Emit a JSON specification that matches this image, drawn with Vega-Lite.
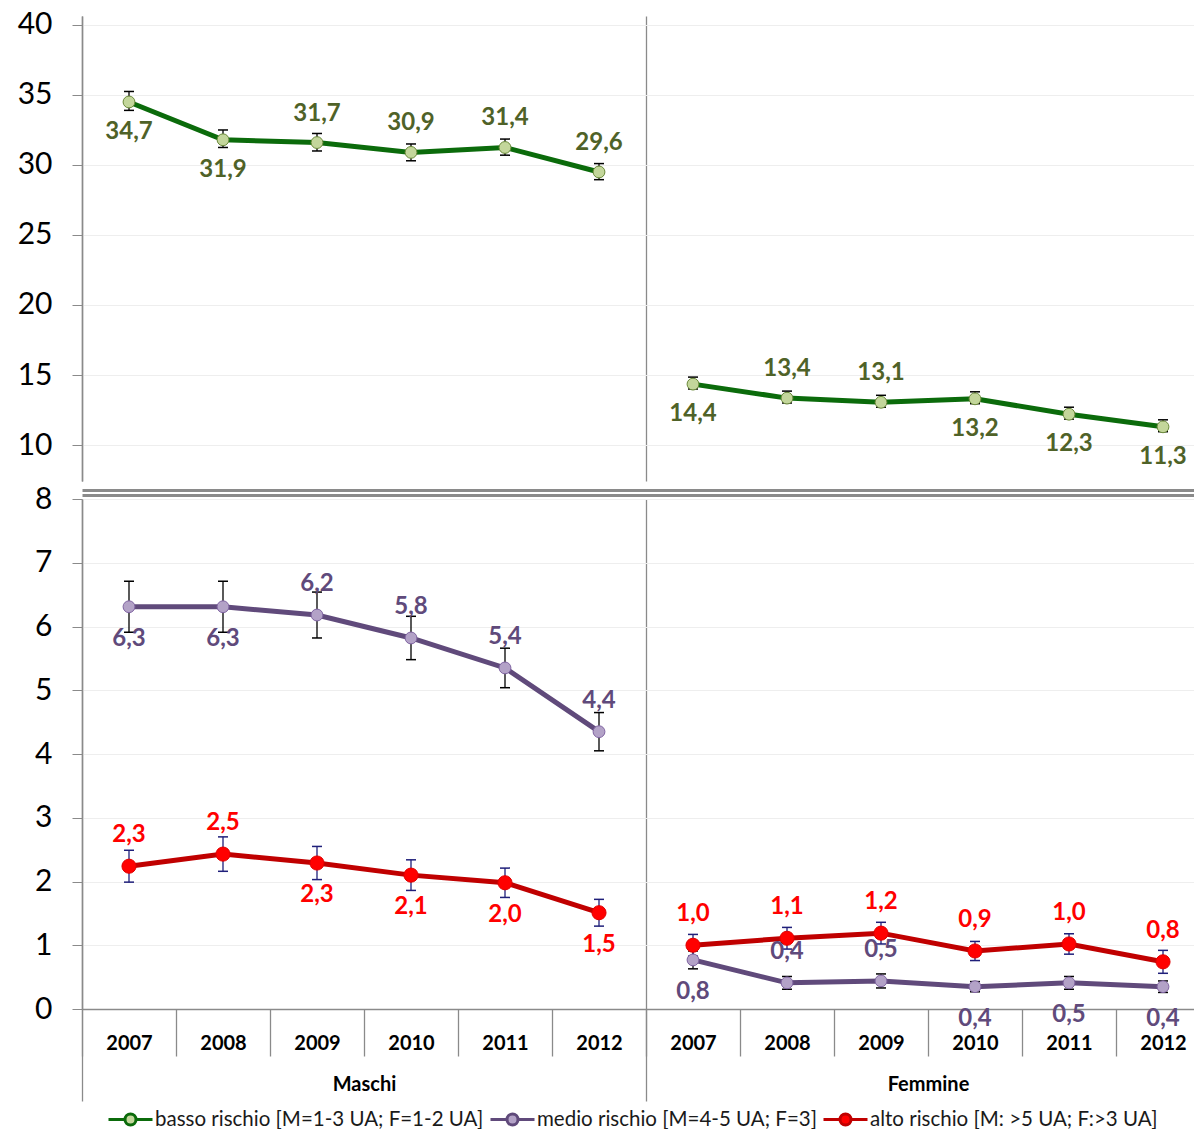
{
"$schema": "https://vega.github.io/schema/vega-lite/v6.json",
"background": "white",
"padding": {"left": 17, "top": 9, "right": 0, "bottom": 0},
"config": {
  "font": "Lato",
  "view": {"stroke": null},
  "axis": {"labelFont": "Lato", "titleFont": "Lato"},
  "legend": {"layout": {"bottom": {"anchor": "middle"}}}
},
"datasets": {
 "d": [
  {"g":"Maschi","k":"M2007","r":"b","s":"basso rischio [M=1-3 UA; F=1-2 UA]","v":34.5,"lo":33.9,"hi":35.25,"t":"34,7","p":"b"},
  {"g":"Maschi","k":"M2008","r":"b","s":"basso rischio [M=1-3 UA; F=1-2 UA]","v":31.8,"lo":31.25,"hi":32.5,"t":"31,9","p":"b"},
  {"g":"Maschi","k":"M2009","r":"b","s":"basso rischio [M=1-3 UA; F=1-2 UA]","v":31.6,"lo":31.0,"hi":32.25,"t":"31,7","p":"a"},
  {"g":"Maschi","k":"M2010","r":"b","s":"basso rischio [M=1-3 UA; F=1-2 UA]","v":30.9,"lo":30.3,"hi":31.5,"t":"30,9","p":"a"},
  {"g":"Maschi","k":"M2011","r":"b","s":"basso rischio [M=1-3 UA; F=1-2 UA]","v":31.25,"lo":30.7,"hi":31.85,"t":"31,4","p":"a"},
  {"g":"Maschi","k":"M2012","r":"b","s":"basso rischio [M=1-3 UA; F=1-2 UA]","v":29.5,"lo":28.95,"hi":30.1,"t":"29,6","p":"a"},
  {"g":"Femmine","k":"F2007","r":"b","s":"basso rischio [M=1-3 UA; F=1-2 UA]","v":14.35,"lo":14.0,"hi":14.85,"t":"14,4","p":"b"},
  {"g":"Femmine","k":"F2008","r":"b","s":"basso rischio [M=1-3 UA; F=1-2 UA]","v":13.35,"lo":13.0,"hi":13.85,"t":"13,4","p":"a"},
  {"g":"Femmine","k":"F2009","r":"b","s":"basso rischio [M=1-3 UA; F=1-2 UA]","v":13.05,"lo":12.7,"hi":13.55,"t":"13,1","p":"a"},
  {"g":"Femmine","k":"F2010","r":"b","s":"basso rischio [M=1-3 UA; F=1-2 UA]","v":13.3,"lo":12.95,"hi":13.8,"t":"13,2","p":"b"},
  {"g":"Femmine","k":"F2011","r":"b","s":"basso rischio [M=1-3 UA; F=1-2 UA]","v":12.2,"lo":11.85,"hi":12.7,"t":"12,3","p":"b"},
  {"g":"Femmine","k":"F2012","r":"b","s":"basso rischio [M=1-3 UA; F=1-2 UA]","v":11.3,"lo":10.95,"hi":11.8,"t":"11,3","p":"b"},

  {"g":"Maschi","k":"M2007","r":"m","s":"medio rischio [M=4-5 UA; F=3]","v":6.31,"lo":5.91,"hi":6.71,"t":"6,3","p":"b"},
  {"g":"Maschi","k":"M2008","r":"m","s":"medio rischio [M=4-5 UA; F=3]","v":6.31,"lo":5.91,"hi":6.71,"t":"6,3","p":"b"},
  {"g":"Maschi","k":"M2009","r":"m","s":"medio rischio [M=4-5 UA; F=3]","v":6.18,"lo":5.82,"hi":6.54,"t":"6,2","p":"a"},
  {"g":"Maschi","k":"M2010","r":"m","s":"medio rischio [M=4-5 UA; F=3]","v":5.82,"lo":5.48,"hi":6.16,"t":"5,8","p":"a"},
  {"g":"Maschi","k":"M2011","r":"m","s":"medio rischio [M=4-5 UA; F=3]","v":5.35,"lo":5.04,"hi":5.66,"t":"5,4","p":"a"},
  {"g":"Maschi","k":"M2012","r":"m","s":"medio rischio [M=4-5 UA; F=3]","v":4.35,"lo":4.05,"hi":4.65,"t":"4,4","p":"a"},
  {"g":"Femmine","k":"F2007","r":"m","s":"medio rischio [M=4-5 UA; F=3]","v":0.77,"lo":0.63,"hi":0.91,"t":"0,8","p":"b"},
  {"g":"Femmine","k":"F2008","r":"m","s":"medio rischio [M=4-5 UA; F=3]","v":0.41,"lo":0.31,"hi":0.51,"t":"0,4","p":"a"},
  {"g":"Femmine","k":"F2009","r":"m","s":"medio rischio [M=4-5 UA; F=3]","v":0.44,"lo":0.33,"hi":0.55,"t":"0,5","p":"a"},
  {"g":"Femmine","k":"F2010","r":"m","s":"medio rischio [M=4-5 UA; F=3]","v":0.35,"lo":0.27,"hi":0.43,"t":"0,4","p":"b"},
  {"g":"Femmine","k":"F2011","r":"m","s":"medio rischio [M=4-5 UA; F=3]","v":0.41,"lo":0.31,"hi":0.51,"t":"0,5","p":"b"},
  {"g":"Femmine","k":"F2012","r":"m","s":"medio rischio [M=4-5 UA; F=3]","v":0.35,"lo":0.26,"hi":0.44,"t":"0,4","p":"b"},

  {"g":"Maschi","k":"M2007","r":"a","s":"alto rischio [M: >5 UA; F:>3 UA]","v":2.24,"lo":1.99,"hi":2.49,"t":"2,3","p":"a"},
  {"g":"Maschi","k":"M2008","r":"a","s":"alto rischio [M: >5 UA; F:>3 UA]","v":2.43,"lo":2.16,"hi":2.7,"t":"2,5","p":"a"},
  {"g":"Maschi","k":"M2009","r":"a","s":"alto rischio [M: >5 UA; F:>3 UA]","v":2.29,"lo":2.03,"hi":2.55,"t":"2,3","p":"b"},
  {"g":"Maschi","k":"M2010","r":"a","s":"alto rischio [M: >5 UA; F:>3 UA]","v":2.1,"lo":1.86,"hi":2.34,"t":"2,1","p":"b"},
  {"g":"Maschi","k":"M2011","r":"a","s":"alto rischio [M: >5 UA; F:>3 UA]","v":1.98,"lo":1.75,"hi":2.21,"t":"2,0","p":"b"},
  {"g":"Maschi","k":"M2012","r":"a","s":"alto rischio [M: >5 UA; F:>3 UA]","v":1.51,"lo":1.3,"hi":1.72,"t":"1,5","p":"b"},
  {"g":"Femmine","k":"F2007","r":"a","s":"alto rischio [M: >5 UA; F:>3 UA]","v":1.0,"lo":0.83,"hi":1.17,"t":"1,0","p":"a"},
  {"g":"Femmine","k":"F2008","r":"a","s":"alto rischio [M: >5 UA; F:>3 UA]","v":1.11,"lo":0.94,"hi":1.28,"t":"1,1","p":"a"},
  {"g":"Femmine","k":"F2009","r":"a","s":"alto rischio [M: >5 UA; F:>3 UA]","v":1.19,"lo":1.02,"hi":1.36,"t":"1,2","p":"a"},
  {"g":"Femmine","k":"F2010","r":"a","s":"alto rischio [M: >5 UA; F:>3 UA]","v":0.91,"lo":0.76,"hi":1.06,"t":"0,9","p":"a"},
  {"g":"Femmine","k":"F2011","r":"a","s":"alto rischio [M: >5 UA; F:>3 UA]","v":1.02,"lo":0.86,"hi":1.18,"t":"1,0","p":"a"},
  {"g":"Femmine","k":"F2012","r":"a","s":"alto rischio [M: >5 UA; F:>3 UA]","v":0.74,"lo":0.56,"hi":0.92,"t":"0,8","p":"a"}
 ]
},
"bounds": "flush",
"spacing": 18,
"vconcat": [
 {
  "width": 1112, "height": 465,
  "data": {"name": "d"},
  "transform": [{"filter": "datum.r == 'b'"}],
  "layer": [
   {
    "mark": {"type": "rule", "opacity": 0},
    "encoding": {
     "x": {"field": "g", "type": "nominal",
       "scale": {"domain": ["Maschi", "Femmine"], "range": [0, 1128], "paddingInner": 0, "paddingOuter": 0},
       "axis": {"orient": "bottom", "offset": 9, "title": null, "labels": false, "ticks": false, "grid": true, "gridColor": "#8a8a8a", "gridWidth": 1.3, "tickBand": "extent", "domainColor": "#8a8a8a", "domainWidth": 3}}
    }
   },
   {
    "encoding": {
     "x": {"field": "k", "type": "nominal",
       "scale": {"domain": ["M2007","M2008","M2009","M2010","M2011","M2012","F2007","F2008","F2009","F2010","F2011","F2012"], "range": [0, 1128], "paddingInner": 0, "paddingOuter": 0},
       "axis": {"orient": "bottom", "offset": 14, "title": null, "labels": false, "ticks": false, "grid": false, "domainColor": "#8a8a8a", "domainWidth": 3}}
    },
    "layer": [
     {
      "mark": {"type": "line", "strokeWidth": 5},
      "encoding": {
       "y": {"field": "v", "type": "quantitative", "title": null,
         "scale": {"domain": [7.43, 40.64], "nice": false, "zero": false},
         "axis": {"values": [10,15,20,25,30,35,40], "format": "d", "labelFontSize": 30, "labelColor": "#000000", "labelPadding": 20, "tickSize": 10, "tickColor": "#8a8a8a", "domainColor": "#8a8a8a", "domainWidth": 1.5, "grid": true, "gridColor": "#eeeeee"}},
       "color": {"field": "s", "type": "nominal",
         "scale": {"domain": ["basso rischio [M=1-3 UA; F=1-2 UA]", "medio rischio [M=4-5 UA; F=3]", "alto rischio [M: >5 UA; F:>3 UA]"], "range": ["#0b6b0b", "#604a7b", "#c00000"]},
         "legend": {"title": null, "orient": "bottom", "direction": "horizontal", "offset": 5,
           "symbolType": "M-2,0L-0.5,0M0.5,0L2,0M0.5,0A0.5,0.5,0,1,1,-0.5,0A0.5,0.5,0,1,1,0.5,0Z",
           "symbolSize": 484, "symbolStrokeWidth": 3, "labelFontSize": 20.5, "labelColor": "#1a1a1a", "labelOffset": 12, "columnPadding": 0, "labelLimit": 0,
           "encode": {"symbols": {"update": {"fill": {"signal": "datum.value === 'basso rischio [M=1-3 UA; F=1-2 UA]' ? '#c3d69b' : datum.value === 'medio rischio [M=4-5 UA; F=3]' ? '#b3a2c7' : '#ff0000'"}, "opacity": {"value": 1}}}}}},
       "detail": {"field": "g"}
      }
     },
     {
      "mark": {"type": "rule", "strokeWidth": 1.3, "color": "#000000"},
      "encoding": {"y": {"field": "lo", "type": "quantitative", "title": null}, "y2": {"field": "hi"}}
     },
     {
      "mark": {"type": "tick", "size": 10, "thickness": 1.5, "color": "#000000", "opacity": 1},
      "encoding": {"y": {"field": "lo", "type": "quantitative", "title": null}}
     },
     {
      "mark": {"type": "tick", "size": 10, "thickness": 1.5, "color": "#000000", "opacity": 1},
      "encoding": {"y": {"field": "hi", "type": "quantitative", "title": null}}
     },
     {
      "mark": {"type": "circle", "size": 140, "opacity": 1, "fill": "#c3d69b", "stroke": "#6b8a3a", "strokeWidth": 1},
      "encoding": {"y": {"field": "v", "type": "quantitative", "title": null}}
     },
     {
      "transform": [{"filter": "datum.p == 'a'"}],
      "mark": {"type": "text", "dy": -29, "fontSize": 24, "fontWeight": "bold", "baseline": "middle", "color": "#4f6228"},
      "encoding": {"y": {"field": "v", "type": "quantitative", "title": null}, "text": {"field": "t"}}
     },
     {
      "transform": [{"filter": "datum.p == 'b'"}],
      "mark": {"type": "text", "dy": 30, "fontSize": 24, "fontWeight": "bold", "baseline": "middle", "color": "#4f6228"},
      "encoding": {"y": {"field": "v", "type": "quantitative", "title": null}, "text": {"field": "t"}}
     }
    ]
   }
  ],
  "resolve": {"scale": {"x": "independent"}}
 },
 {
  "width": 1112, "height": 510,
  "data": {"name": "d"},
  "transform": [{"filter": "datum.r != 'b'"}],
  "layer": [
   {
    "mark": {"type": "rule", "opacity": 0},
    "encoding": {
     "x": {"field": "g", "type": "nominal",
       "scale": {"domain": ["Maschi", "Femmine"], "range": [0, 1128], "paddingInner": 0, "paddingOuter": 0},
       "axis": {"orient": "bottom", "offset": 0, "title": null, "labels": true, "labelAngle": 0, "labelFontSize": 20, "labelFontWeight": "bold", "labelColor": "#000000", "labelPadding": -27, "ticks": true, "tickSize": 92, "tickColor": "#8a8a8a", "tickWidth": 1.3, "tickBand": "extent", "domain": false, "grid": true, "gridColor": "#8a8a8a", "gridWidth": 1.3}}
    }
   },
   {
    "encoding": {
     "x": {"field": "k", "type": "nominal",
       "scale": {"domain": ["M2007","M2008","M2009","M2010","M2011","M2012","F2007","F2008","F2009","F2010","F2011","F2012"], "range": [0, 1128], "paddingInner": 0, "paddingOuter": 0},
       "axis": {"orient": "bottom", "title": null, "labelExpr": "substring(datum.label, 1)", "labelAngle": 0, "labelFontSize": 20, "labelFontWeight": "bold", "labelColor": "#000000", "labelPadding": -23, "ticks": true, "tickSize": 47, "tickBand": "extent", "tickColor": "#8a8a8a", "tickWidth": 1.3, "domainColor": "#8a8a8a", "domainWidth": 1.5, "grid": false}}
    },
    "layer": [
     {
      "mark": {"type": "line", "strokeWidth": 5},
      "encoding": {
       "y": {"field": "v", "type": "quantitative", "title": null,
         "scale": {"domain": [0, 8], "nice": false, "zero": false},
         "axis": {"values": [0,1,2,3,4,5,6,7,8], "format": "d", "labelFontSize": 30, "labelColor": "#000000", "labelPadding": 20, "tickSize": 10, "tickColor": "#8a8a8a", "domainColor": "#8a8a8a", "domainWidth": 1.5, "grid": true, "gridColor": "#eeeeee"}},
       "color": {"field": "s", "type": "nominal",
         "scale": {"domain": ["basso rischio [M=1-3 UA; F=1-2 UA]", "medio rischio [M=4-5 UA; F=3]", "alto rischio [M: >5 UA; F:>3 UA]"], "range": ["#0b6b0b", "#604a7b", "#c00000"]},
         "legend": {"title": null, "orient": "bottom", "direction": "horizontal", "offset": 5,
           "symbolType": "M-2,0L-0.5,0M0.5,0L2,0M0.5,0A0.5,0.5,0,1,1,-0.5,0A0.5,0.5,0,1,1,0.5,0Z",
           "symbolSize": 484, "symbolStrokeWidth": 3, "labelFontSize": 20.5, "labelColor": "#1a1a1a", "labelOffset": 12, "columnPadding": 0, "labelLimit": 0,
           "encode": {"symbols": {"update": {"fill": {"signal": "datum.value === 'basso rischio [M=1-3 UA; F=1-2 UA]' ? '#c3d69b' : datum.value === 'medio rischio [M=4-5 UA; F=3]' ? '#b3a2c7' : '#ff0000'"}, "opacity": {"value": 1}}}}}},
       "detail": {"field": "g"}
      }
     },
     {
      "mark": {"type": "rule", "strokeWidth": 1.3},
      "encoding": {"y": {"field": "lo", "type": "quantitative", "title": null}, "y2": {"field": "hi"},
        "color": {"condition": {"test": "datum.r == 'a'", "value": "#1f1f7a"}, "value": "#000000"}}
     },
     {
      "mark": {"type": "tick", "size": 10, "thickness": 1.5, "opacity": 1},
      "encoding": {"y": {"field": "lo", "type": "quantitative", "title": null},
        "color": {"condition": {"test": "datum.r == 'a'", "value": "#1f1f7a"}, "value": "#000000"}}
     },
     {
      "mark": {"type": "tick", "size": 10, "thickness": 1.5, "opacity": 1},
      "encoding": {"y": {"field": "hi", "type": "quantitative", "title": null},
        "color": {"condition": {"test": "datum.r == 'a'", "value": "#1f1f7a"}, "value": "#000000"}}
     },
     {
      "mark": {"type": "circle", "opacity": 1, "strokeWidth": 1},
      "encoding": {"y": {"field": "v", "type": "quantitative", "title": null},
        "fill": {"condition": {"test": "datum.r == 'm'", "value": "#b3a2c7"}, "value": "#ff0000"},
        "stroke": {"condition": {"test": "datum.r == 'm'", "value": "#8064a2"}, "value": "#e00000"},
        "size": {"condition": {"test": "datum.r == 'a'", "value": 200}, "value": 140}}
     },
     {
      "transform": [{"filter": "datum.p == 'a'"}],
      "mark": {"type": "text", "dy": -31, "fontSize": 24, "fontWeight": "bold", "baseline": "middle"},
      "encoding": {"y": {"field": "v", "type": "quantitative", "title": null}, "text": {"field": "t"},
        "color": {"condition": {"test": "datum.r == 'm'", "value": "#604a7b"}, "value": "#ff0000"}}
     },
     {
      "transform": [{"filter": "datum.p == 'b'"}],
      "mark": {"type": "text", "dy": 32, "fontSize": 24, "fontWeight": "bold", "baseline": "middle"},
      "encoding": {"y": {"field": "v", "type": "quantitative", "title": null}, "text": {"field": "t"},
        "color": {"condition": {"test": "datum.r == 'm'", "value": "#604a7b"}, "value": "#ff0000"}}
     }
    ]
   }
  ],
  "resolve": {"scale": {"x": "independent"}}
 }
]
}
